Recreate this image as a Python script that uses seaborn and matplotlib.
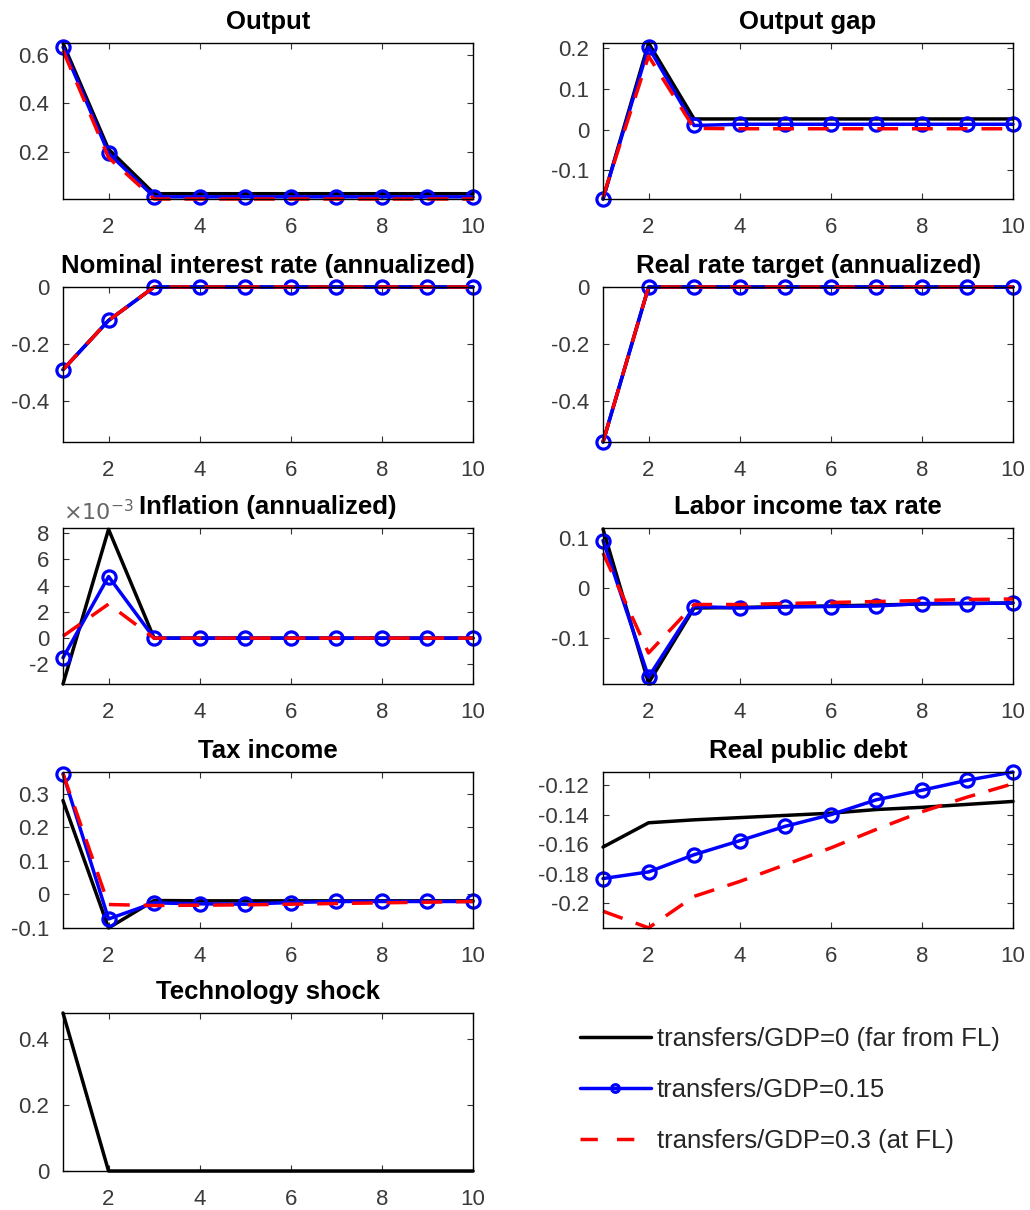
import matplotlib
matplotlib.use("Agg")
import matplotlib.pyplot as plt
import seaborn as sns
import pandas as pd
from matplotlib.ticker import FuncFormatter
from matplotlib.lines import Line2D

# ---------------- data ----------------
periods = [1, 2, 3, 4, 5, 6, 7, 8, 9, 10]
series_labels = ["transfers/GDP=0 (far from FL)", "transfers/GDP=0.15", "transfers/GDP=0.3 (at FL)"]

titles = ["Output", "Output gap",
          "Nominal interest rate (annualized)", "Real rate target (annualized)",
          "Inflation (annualized)", "Labor income tax rate",
          "Tax income", "Real public debt",
          "Technology shock"]

output_far = [0.650, 0.210, 0.025, 0.025, 0.025, 0.025, 0.025, 0.025, 0.025, 0.025]
output_mid = [0.634, 0.193, 0.012, 0.012, 0.012, 0.012, 0.012, 0.012, 0.012, 0.012]
output_fl = [0.620, 0.175, 0.003, 0.003, 0.003, 0.003, 0.003, 0.003, 0.003, 0.003]

gap_far = [-0.170, 0.212, 0.026, 0.026, 0.026, 0.026, 0.026, 0.026, 0.026, 0.026]
gap_mid = [-0.170, 0.202, 0.010, 0.013, 0.013, 0.013, 0.013, 0.013, 0.013, 0.013]
gap_fl = [-0.165, 0.180, 0.003, 0.002, 0.002, 0.002, 0.002, 0.002, 0.002, 0.002]

nom_far = [-0.289, -0.117, 0, 0, 0, 0, 0, 0, 0, 0]
nom_mid = [-0.289, -0.117, 0, 0, 0, 0, 0, 0, 0, 0]
nom_fl = [-0.289, -0.117, 0, 0, 0, 0, 0, 0, 0, 0]

rrt_far = [-0.542, 0, 0, 0, 0, 0, 0, 0, 0, 0]
rrt_mid = [-0.542, 0, 0, 0, 0, 0, 0, 0, 0, 0]
rrt_fl = [-0.542, 0, 0, 0, 0, 0, 0, 0, 0, 0]

# inflation in units of 1e-3
infl_far = [-3.5, 8.3, 0.0, 0.0, 0.0, 0.0, 0.0, 0.0, 0.0, 0.0]
infl_mid = [-1.5, 4.7, 0.0, 0.0, 0.0, 0.0, 0.0, 0.0, 0.0, 0.0]
infl_fl = [0.15, 2.6, 0.0, 0.0, 0.0, 0.0, 0.0, 0.0, 0.0, 0.0]

ltax_far = [0.118, -0.190, -0.040, -0.039, -0.037, -0.036, -0.034, -0.032, -0.031, -0.030]
ltax_mid = [0.095, -0.178, -0.037, -0.040, -0.038, -0.037, -0.036, -0.031, -0.031, -0.030]
ltax_fl = [0.070, -0.130, -0.033, -0.033, -0.031, -0.029, -0.027, -0.025, -0.023, -0.022]

taxinc_far = [0.280, -0.100, -0.018, -0.019, -0.019, -0.019, -0.019, -0.019, -0.019, -0.019]
taxinc_mid = [0.360, -0.073, -0.025, -0.028, -0.029, -0.024, -0.021, -0.021, -0.021, -0.021]
taxinc_fl = [0.360, -0.030, -0.033, -0.032, -0.031, -0.029, -0.027, -0.025, -0.023, -0.021]

debt_far = [-0.162, -0.1455, -0.1435, -0.142, -0.1405, -0.139, -0.1365, -0.135, -0.133, -0.131]
debt_mid = [-0.1834, -0.1789, -0.1672, -0.1577, -0.1479, -0.1400, -0.1299, -0.1234, -0.1166, -0.1110]
debt_fl = [-0.2056, -0.2169, -0.1955, -0.1854, -0.1740, -0.1626, -0.1500, -0.1380, -0.1280, -0.1190]

tech_far = [0.48, 0, 0, 0, 0, 0, 0, 0, 0, 0]

panel_series = [
    (output_far, output_mid, output_fl),
    (gap_far, gap_mid, gap_fl),
    (nom_far, nom_mid, nom_fl),
    (rrt_far, rrt_mid, rrt_fl),
    (infl_far, infl_mid, infl_fl),
    (ltax_far, ltax_mid, ltax_fl),
    (taxinc_far, taxinc_mid, taxinc_fl),
    (debt_far, debt_mid, debt_fl),
    (tech_far, None, None),
]

ylims = [(0.003, 0.651), (-0.170, 0.212), (-0.542, 0.0), (-0.542, 0.0),
         (-3.5, 8.4), (-0.192, 0.120), (-0.100, 0.365), (-0.217, -0.111), (0.0, 0.48)]
yticks = [[0.2, 0.4, 0.6], [-0.1, 0, 0.1, 0.2], [-0.4, -0.2, 0], [-0.4, -0.2, 0],
          [-2, 0, 2, 4, 6, 8], [-0.1, 0, 0.1],
          [-0.1, 0, 0.1, 0.2, 0.3], [-0.2, -0.18, -0.16, -0.14, -0.12], [0, 0.2, 0.4]]
xticks = [2, 4, 6, 8, 10]

# ---------------- style ----------------
sns.set_theme(style="ticks")
plt.rcParams["font.family"] = ["Liberation Sans", "DejaVu Sans"]
plt.rcParams["axes.unicode_minus"] = False

W, H = 1030, 1210
fig = plt.figure(figsize=(W / 100, H / 100), dpi=100)

col_left = [63, 603]
ax_w = 410
rows = [(43, 199), (287, 442), (528, 684), (772, 928), (1013, 1171)]

tick_color = "#3a3a3a"
tick_fs = 16
title_fs = 18.5

styles = [
    dict(color="black", linewidth=2.5),
    dict(color="blue", linewidth=2.5, marker="o", markersize=9.5, markerfacecolor="none",
         markeredgecolor="blue", markeredgewidth=2.3),
    dict(color="red", linewidth=2.5, linestyle=(0, (6, 4))),
]

fmt = FuncFormatter(lambda v, p: ("%g" % round(v, 6)))

for i, title in enumerate(titles):
    r, c = divmod(i, 2)
    top, bot = rows[r]
    left = col_left[c]
    ax = fig.add_axes([left / W, 1 - bot / H, ax_w / W, (bot - top) / H])
    for s, vals in enumerate(panel_series[i]):
        if vals is None:
            continue
        df = pd.DataFrame({"period": periods, "value": vals})
        sns.lineplot(data=df, x="period", y="value", ax=ax, clip_on=False, **styles[s])
    ax.set_xlim(1, 10)
    ax.set_ylim(*ylims[i])
    ax.set_xticks(xticks)
    ax.set_yticks(yticks[i])
    ax.set_xlabel("")
    ax.set_ylabel("")
    ax.yaxis.set_major_formatter(fmt)
    ax.xaxis.set_major_formatter(FuncFormatter(lambda v, p: "%d" % v))
    ax.tick_params(direction="in", length=4, width=0.8, top=True, right=True,
                   labelsize=tick_fs, labelcolor=tick_color, color="#333333")
    ax.tick_params(axis="x", pad=13)
    ax.tick_params(axis="y", pad=10)
    for sp in ax.spines.values():
        sp.set_visible(True)
        sp.set_color("black")
        sp.set_linewidth(1.0)
    ax.set_title(title, fontsize=title_fs, fontweight="bold", color="black", pad=10)
    if i == 4:
        ax.text(0.0, 1.015, r"$\times10^{-3}$", transform=ax.transAxes, ha="left", va="bottom",
                fontsize=tick_fs, color="#666666")

handles = [
    Line2D([], [], color="black", linewidth=2.5),
    Line2D([], [], color="blue", linewidth=2.5, marker="o", markersize=5.5,
           markerfacecolor="none", markeredgecolor="blue", markeredgewidth=2.3),
    Line2D([], [], color="red", linewidth=2.5, linestyle=(0, (5, 5.5))),
]
fig.legend(handles, series_labels, loc="upper left", bbox_to_anchor=(580 / W, 1 - 1027 / H),
           frameon=False, fontsize=18.5, handlelength=2.75, handletextpad=0.25,
           labelspacing=1.05, borderpad=0, borderaxespad=0)

fig.savefig("out.png", dpi=100)
